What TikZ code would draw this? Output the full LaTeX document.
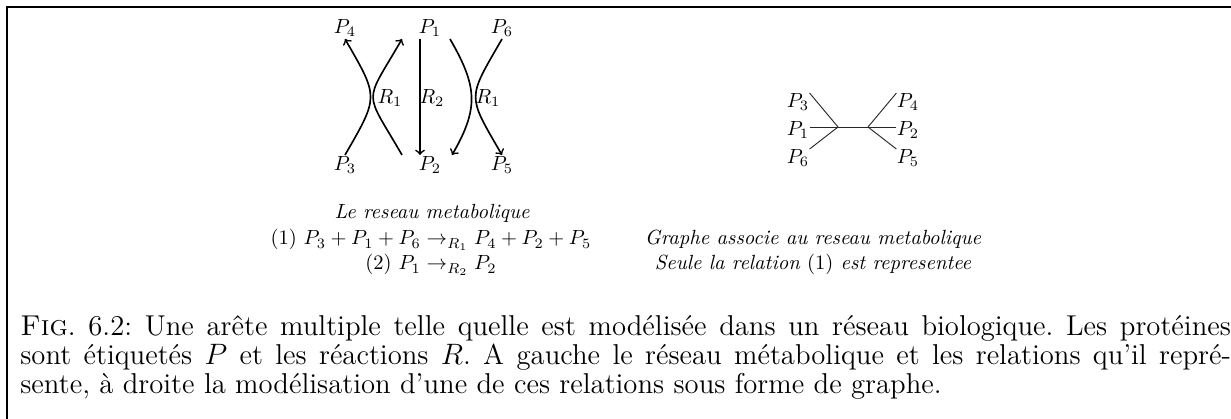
\documentclass[tikz,border=0pt]{standalone}
\begin{document}
\begin{tikzpicture}[x=0.4878pt,y=-0.4878pt,
  lab/.style={inner sep=0pt,font=\fontsize{10}{12}\selectfont},
  arc/.style={line width=0.8pt,->},
  edge/.style={line width=0.45pt,black!85},
  subcap/.style={inner sep=0pt,font=\fontsize{10}{12}\selectfont\itshape}]
\useasboundingbox (0,0) rectangle (1231,419);
\draw[line width=1.2pt] (7,440) -- (7,7) -- (1260,7);
% left diagram labels
\node[lab] (P4) at (345,28) {$P_4$};
\node[lab] (P1) at (430,28) {$P_1$};
\node[lab] (P6) at (502,28) {$P_6$};
\node[lab] (P3) at (345,165) {$P_3$};
\node[lab] (P2) at (430,165) {$P_2$};
\node[lab] (P5) at (502,165) {$P_5$};
\node[lab] (R1a) at (390,98) {$R_1$};
\node[lab] (R2) at (432,98) {$R_2$};
\node[lab] (R1b) at (488,98) {$R_1$};
\coordinate (a3) at (345,155); \coordinate (a4) at (345,39);
\coordinate (b3) at (402,155); \coordinate (b4) at (402,39);
\coordinate (v1) at (420,39);  \coordinate (v2) at (420,155);
\coordinate (c1) at (450,39);  \coordinate (c2) at (452,155);
\coordinate (d1) at (502,39);  \coordinate (d2) at (502,155);
\draw[arc] (a3) to[out=60,in=-60,looseness=1.5] (a4);
\draw[arc] (b3) to[out=120,in=-120,looseness=1.7] (b4);
\draw[arc] (v1) -- (v2);
\draw[arc] (c1) to[out=-60,in=60,looseness=1.2] (c2);
\draw[arc] (d1) to[out=-120,in=120,looseness=1.55] (d2);
% right graph
\node[lab] (Q3) at (798,102) {$P_3$};
\node[lab] (Q1) at (798,130) {$P_1$};
\node[lab] (Q6) at (798,158) {$P_6$};
\node[lab] (Q4) at (908,102) {$P_4$};
\node[lab] (Q2) at (908,130) {$P_2$};
\node[lab] (Q5) at (908,158) {$P_5$};
\coordinate (j1) at (838,127);
\coordinate (j2) at (868,127);
\draw[edge] (Q3.north east) -- (j1);
\draw[edge] (Q1.east) ++(0,-3) -- (j1);
\draw[edge] (Q6.north east) -- (j1);
\draw[edge] (j1) -- (j2);
\draw[edge] (Q4.north west) -- (j2);
\draw[edge] (Q2.west) ++(0,-3) -- (j2);
\draw[edge] (Q5.north west) -- (j2);
% captions of the two parts
\node[subcap,anchor=base] (t1) at (432,219) {Le reseau metabolique};
\node[lab,anchor=base] (t2) at (431,245) {(1) $P_3+P_1+P_6\to_{R_1}P_4+P_2+P_5$};
\node[lab,anchor=base] (t3) at (431,270) {(2) $P_1\to_{R_2}P_2$};
\node[subcap,anchor=base] (t4) at (813,245) {Graphe associe au reseau metabolique};
\node[subcap,anchor=base] (t5) at (813,270) {Seule la relation \upshape(1)\itshape\ est representee};
% figure caption
\node[anchor=base west,inner sep=0pt,font=\fontsize{14}{14.1}\selectfont] (fig) at (20,336)
 {\parbox[t]{590.5pt}{\frenchspacing\textsc{Fig}. 6.2: Une arête multiple telle quelle est modélisée dans un réseau biologique. Les protéines\linebreak
 sont étiquetés $P$ et les réactions $R$. A gauche le réseau métabolique et les relations qu'il repré-\linebreak
 sente, à droite la modélisation d'une de ces relations sous forme de graphe.}};
\end{tikzpicture}
\end{document}
